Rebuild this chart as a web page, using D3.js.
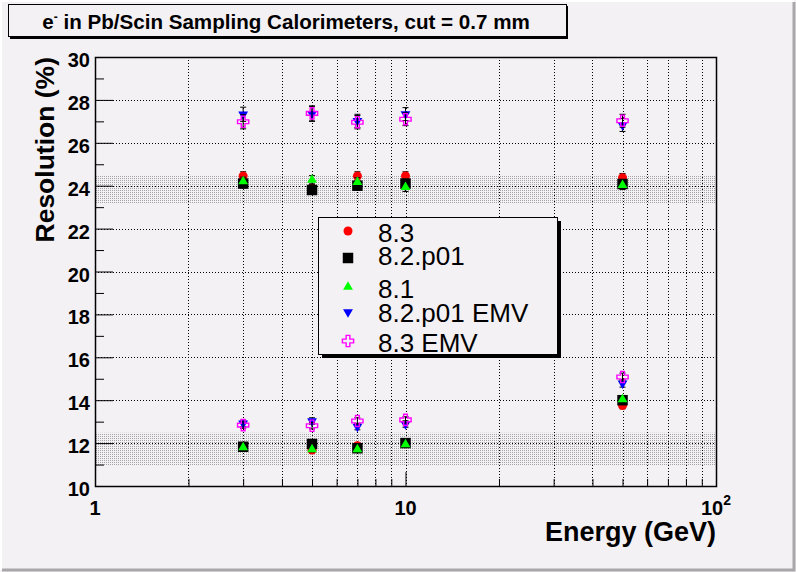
<!DOCTYPE html>
<html>
<head>
<meta charset="utf-8">
<script src="https://cdn.jsdelivr.net/npm/d3@7"></script>
<style>
	body { margin: 0; background: #f4f1f4; }
	svg { display: block; font-family: "Liberation Sans", Arial, sans-serif; }
</style>
</head>
<body>
<div id="chart"></div>
<script>
// e- resolution vs energy, ROOT style canvas

var energies = [3, 5, 7, 10, 50, 3, 5, 7, 10, 50];

var res83      = [24.45, 23.88, 24.45, 24.45, 24.37, 11.85, 11.68, 11.88, 11.97, 13.75];
var res82p01   = [24.10, 23.80, 24.00, 24.10, 24.08, 11.83, 11.96, 11.76, 12.00, 14.00];
var res81      = [24.20, 24.27, 24.17, 23.93, 24.02, 11.80, 11.71, 11.71, 11.94, 14.04];
var res82p01em = [27.33, 27.35, 27.02, 27.34, 26.83, 12.92, 13.03, 12.77, 12.89, 14.79];
var res83em    = [26.98, 27.37, 26.96, 27.10, 27.03, 12.84, 12.81, 13.03, 13.08, 15.08];

var errStd = [0.2, 0.2, 0.2, 0.2, 0.2, 0.12, 0.12, 0.12, 0.12, 0.15];
var errEmv = [0.33, 0.35, 0.31, 0.3, 0.3, 0.15, 0.15, 0.15, 0.15, 0.18];

var seriesNames = ['8.3', '8.2.p01', '8.1', '8.2.p01 EMV', '8.3 EMV'];
var bands = [[23.15, 24.5], [10.95, 12.48]];

var yTicks = [10, 12, 14, 16, 18, 20, 22, 24, 26, 28, 30];

var W = 796, H = 572,
	bg = '#f4f1f4',
	frameL = 95, frameR = 716, frameT = 57, frameB = 486;

var svg = d3.select('#chart').append('svg').attr('width', W).attr('height', H);

// canvas bevel
svg.append('rect').attr('width', W).attr('height', H).attr('fill', bg);
svg.append('path').attr('d', 'M1,' + (H - 2) + 'V1H' + (W - 2)).attr('stroke', '#ffffff').attr('stroke-width', 2).attr('fill', 'none');
svg.append('path').attr('d', 'M2,' + (H - 2) + 'H' + (W - 2) + 'V2').attr('stroke', '#a8a8a8').attr('stroke-width', 3).attr('fill', 'none');

var x = d3.scaleLog().domain([1, 100]).range([frameL, frameR]);
var y = d3.scaleLinear().domain([10, 30]).range([frameB, frameT]);

// stipple fill for bands
var defs = svg.append('defs');
var pat = defs.append('pattern').attr('id', 'dots').attr('patternUnits', 'userSpaceOnUse')
	.attr('width', 2).attr('height', 2);
pat.append('rect').attr('width', 1).attr('height', 1).attr('fill', '#a4a4a4');

svg.selectAll('rect.band').data(bands).enter().append('rect').attr('class', 'band')
	.attr('x', frameL).attr('width', frameR - frameL)
	.attr('y', function (d) { return y(d[1]); })
	.attr('height', function (d) { return y(d[0]) - y(d[1]); })
	.attr('fill', 'url(#dots)');

// grid
var xGrid = [];
[1, 10].forEach(function (dec) { for (var k = 1; k < 10; k++) xGrid.push(dec * k); });
xGrid = xGrid.filter(function (v) { return v > 1; });

var grid = svg.append('g').attr('stroke', '#000').attr('stroke-width', 1).attr('stroke-dasharray', '1,2');
grid.selectAll('line.gx').data(xGrid).enter().append('line')
	.attr('x1', function (d) { return Math.round(x(d)) + 0.5; })
	.attr('x2', function (d) { return Math.round(x(d)) + 0.5; })
	.attr('y1', frameT).attr('y2', frameB);
grid.selectAll('line.gy').data(yTicks.slice(1, -1)).enter().append('line')
	.attr('y1', function (d) { return Math.round(y(d)) + 0.5; })
	.attr('y2', function (d) { return Math.round(y(d)) + 0.5; })
	.attr('x1', frameL).attr('x2', frameR);

// axes
var yAxis = d3.axisLeft(y).tickValues(d3.range(10, 30.01, 1)).tickSizeInner(0).tickSizeOuter(0).tickFormat('');
var gy = svg.append('g').attr('transform', 'translate(' + frameL + ',0)').call(yAxis);
gy.select('.domain').remove();
gy.selectAll('.tick line').attr('x2', function (d) { return d % 2 === 0 ? 18 : 9; }).attr('stroke', '#000');

var xAxis = d3.axisBottom(x).tickValues([1].concat(xGrid)).tickSizeInner(0).tickSizeOuter(0).tickFormat('');
var gx = svg.append('g').attr('transform', 'translate(0,' + frameB + ')').call(xAxis);
gx.select('.domain').remove();
gx.selectAll('.tick line').attr('y2', function (d) { return (d === 10 || d === 100) ? -14 : -7; }).attr('stroke', '#000');

svg.append('rect').attr('x', frameL + 0.5).attr('y', frameT + 0.5)
	.attr('width', frameR - frameL).attr('height', frameB - frameT)
	.attr('fill', 'none').attr('stroke', '#000').attr('stroke-width', 1.5);

// tick labels
svg.append('g').selectAll('text').data(yTicks).enter().append('text')
	.attr('x', 90).attr('y', function (d) { return y(d) + 10; })
	.attr('text-anchor', 'end').attr('font-weight', 'bold').attr('font-size', 20)
	.text(function (d) { return d; });

var xl = svg.append('g').attr('font-weight', 'bold').attr('font-size', 20).attr('text-anchor', 'middle');
xl.append('text').attr('x', x(1)).attr('y', 515).text('1');
xl.append('text').attr('x', x(10)).attr('y', 515).text('10');
var t100 = xl.append('text').attr('x', x(100)).attr('y', 515);
t100.append('tspan').text('10');
t100.append('tspan').attr('dy', -10).attr('font-size', 14).text('2');

// axis titles
svg.append('text').attr('x', frameR).attr('y', 541).attr('text-anchor', 'end')
	.attr('font-weight', 'bold').attr('font-size', 27).text('Energy (GeV)');
svg.append('text').attr('transform', 'translate(54,' + frameT + ') rotate(-90)').attr('text-anchor', 'end')
	.attr('font-weight', 'bold').attr('font-size', 26.5).text('Resolution (%)');

// markers
var styles = [
	{values: res83, err: errStd, type: d3.symbolCircle, size: 64, fill: '#ff0000', rot: 0},
	{values: res82p01, err: errStd, type: d3.symbolSquare, size: 110, fill: '#000000', rot: 0},
	{values: res81, err: errStd, type: d3.symbolTriangle, size: 42, fill: '#00ff00', rot: 0},
	{values: res82p01em, err: errEmv, type: d3.symbolTriangle, size: 42, fill: '#0000ff', rot: 180},
	{values: res83em, err: errEmv, type: d3.symbolCross, size: 70, fill: 'none', stroke: '#ff00ff', rot: 0}
];

styles.forEach(function (s, si) {
	var pts = s.values.map(function (v, i) { return {e: energies[i], v: v, err: s.err[i]}; });
	var g = svg.append('g').attr('class', 'series' + si);

	var eb = g.selectAll('g.err').data(pts).enter().append('g').attr('stroke', '#000').attr('stroke-width', 1);
	eb.append('line')
		.attr('x1', function (d) { return x(d.e); }).attr('x2', function (d) { return x(d.e); })
		.attr('y1', function (d) { return y(d.v + d.err); }).attr('y2', function (d) { return y(d.v - d.err); });
	eb.append('line')
		.attr('x1', function (d) { return x(d.e) - 3; }).attr('x2', function (d) { return x(d.e) + 3; })
		.attr('y1', function (d) { return y(d.v + d.err); }).attr('y2', function (d) { return y(d.v + d.err); });
	eb.append('line')
		.attr('x1', function (d) { return x(d.e) - 3; }).attr('x2', function (d) { return x(d.e) + 3; })
		.attr('y1', function (d) { return y(d.v - d.err); }).attr('y2', function (d) { return y(d.v - d.err); });

	g.selectAll('path.mk').data(pts).enter().append('path').attr('class', 'mk')
		.attr('d', d3.symbol().type(s.type).size(s.size))
		.attr('transform', function (d) { return 'translate(' + x(d.e) + ',' + y(d.v) + ') rotate(' + s.rot + ')'; })
		.attr('fill', s.fill)
		.attr('stroke', s.stroke || 'none').attr('stroke-width', 1.4);
});

// legend
var lg = svg.append('g');
lg.append('rect').attr('x', 322).attr('y', 221).attr('width', 239).attr('height', 137).attr('fill', '#000');
lg.append('rect').attr('x', 318.5).attr('y', 217.5).attr('width', 239).attr('height', 137)
	.attr('fill', bg).attr('stroke', '#000').attr('stroke-width', 1);

var markY = [231, 258, 287, 312, 341],
	textY = [242, 265, 298, 322, 352];

seriesNames.forEach(function (name, i) {
	var s = styles[i];
	lg.append('path').attr('d', d3.symbol().type(s.type).size(s.size))
		.attr('transform', 'translate(348,' + markY[i] + ') rotate(' + s.rot + ')')
		.attr('fill', s.fill).attr('stroke', s.stroke || 'none').attr('stroke-width', 1.4);
	lg.append('text').attr('x', 378).attr('y', textY[i]).attr('font-size', 26).text(name);
});

// title box
svg.append('rect').attr('x', 10).attr('y', 6).attr('width', 558).attr('height', 33).attr('fill', '#000');
svg.append('rect').attr('x', 8.5).attr('y', 4.5).attr('width', 558).attr('height', 32)
	.attr('fill', bg).attr('stroke', '#000').attr('stroke-width', 1);
var title = svg.append('text').attr('x', 286).attr('y', 29).attr('text-anchor', 'middle')
	.attr('font-weight', 'bold').attr('font-size', 20.6);
title.append('tspan').text('e');
title.append('tspan').attr('dy', -8).attr('font-size', 12).text('-');
title.append('tspan').attr('dy', 8).text(' in Pb/Scin Sampling Calorimeters, cut = 0.7 mm');
</script>
</body>
</html>
